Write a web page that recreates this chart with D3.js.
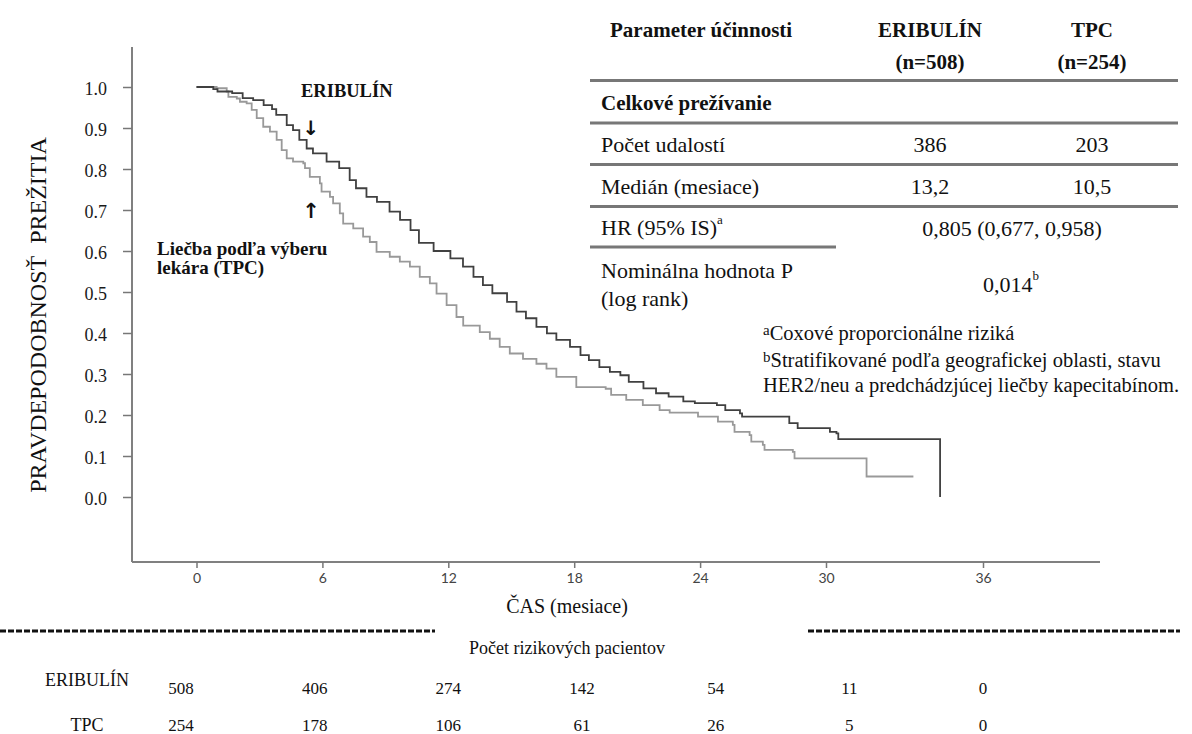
<!DOCTYPE html>
<html>
<head>
<meta charset="utf-8">
<script src="https://d3js.org/d3.v7.min.js"></script>
<style>
  body { margin: 0; background: #fff; }
  svg { display: block; }
</style>
</head>
<body>
<script>
// Kaplan-Meier step points, [months, survival probability]
var eribulinTime = [0, 0.8, 1.0, 1.7, 2.2, 2.7, 3.2, 3.6, 3.8, 4.3, 4.6, 4.9, 5.25, 5.55, 6.2, 6.8, 7.3, 7.6, 8.1, 8.6, 9.2, 9.7, 10.2, 10.6, 11.3, 12.1, 12.7, 13.2, 13.65, 14.1, 14.8, 15.25, 15.7, 16.2, 16.7, 17.15, 17.8, 18.3, 18.7, 19.2, 19.7, 20.2, 20.6, 21.3, 21.9, 22.5, 23.2, 23.75, 24.8, 25.2, 25.9, 26.0, 28.25, 28.65, 30.15, 30.4, 30.47, 34.36];
var eribulinSurv = [1.0, 0.995, 0.989, 0.985, 0.973, 0.968, 0.956, 0.946, 0.932, 0.907, 0.895, 0.871, 0.85, 0.838, 0.818, 0.802, 0.773, 0.753, 0.732, 0.72, 0.696, 0.676, 0.651, 0.62, 0.6, 0.582, 0.562, 0.537, 0.517, 0.497, 0.476, 0.452, 0.436, 0.415, 0.399, 0.383, 0.366, 0.346, 0.334, 0.317, 0.305, 0.297, 0.281, 0.265, 0.253, 0.245, 0.233, 0.229, 0.224, 0.212, 0.204, 0.196, 0.18, 0.168, 0.159, 0.155, 0.141, 0.0];

var tpcTime = [0, 0.96, 1.44, 1.52, 1.92, 2.07, 2.39, 2.63, 2.87, 3.18, 3.5, 3.82, 4.06, 4.3, 4.6, 5.09, 5.17, 5.4, 5.88, 5.96, 6.36, 6.51, 6.83, 6.99, 7.47, 7.94, 8.26, 8.58, 9.21, 9.69, 10.17, 10.64, 11.12, 11.44, 11.92, 12.39, 12.71, 13.5, 13.98, 14.45, 14.93, 15.56, 16.2, 16.68, 17.15, 18.1, 19.5, 19.76, 20.48, 21.27, 22.07, 22.55, 23.9, 24.85, 25.56, 25.64, 26.36, 26.44, 26.99, 27.07, 28.42, 28.5, 31.55, 33.34];
var tpcSurv = [1.0, 0.997, 0.989, 0.976, 0.972, 0.964, 0.96, 0.944, 0.924, 0.903, 0.891, 0.871, 0.846, 0.826, 0.818, 0.814, 0.802, 0.781, 0.765, 0.745, 0.732, 0.716, 0.692, 0.667, 0.655, 0.635, 0.622, 0.598, 0.586, 0.574, 0.562, 0.537, 0.521, 0.496, 0.468, 0.439, 0.418, 0.402, 0.386, 0.366, 0.35, 0.337, 0.325, 0.313, 0.293, 0.268, 0.264, 0.249, 0.237, 0.224, 0.212, 0.206, 0.196, 0.184, 0.176, 0.159, 0.151, 0.135, 0.127, 0.115, 0.11, 0.094, 0.05, 0.05];

// axis ticks
var xTicks = [0, 6, 12, 18, 24, 30, 36];
var yTicks = [0.0, 0.1, 0.2, 0.3, 0.4, 0.5, 0.6, 0.7, 0.8, 0.9, 1.0];

// number at risk
var riskTimes = ["0", "6", "12", "18", "24", "30", "36"];
var riskEribulin = [508, 406, 274, 142, 54, 11, 0];
var riskTpc = [254, 178, 106, 61, 26, 5, 0];

// efficacy table
var tableHead = ["Parameter účinnosti", "ERIBULÍN", "TPC"];
var tableN = ["", "(n=508)", "(n=254)"];
var eventsRow = ["Počet udalostí", "386", "203"];
var medianRow = ["Medián (mesiace)", "13,2", "10,5"];
var hrValue = "0,805 (0,677, 0,958)";
var pValue = "0,014";

var w = 1192;
var h = 734;
var serif = "'Liberation Serif', 'Times New Roman', serif";

var svg = d3.select("body")
    .append("svg")
    .attr("width", w)
    .attr("height", h);

// the printed time axis is not evenly spaced after 30 months
var x = d3.scaleLinear()
    .domain([0, 30, 36])
    .range([196.5, 826, 983]);

var y = d3.scaleLinear()
    .domain([0, 1])
    .range([497, 87]);

// plot frame
svg.append("line")
    .attr("x1", 132).attr("x2", 132)
    .attr("y1", 47).attr("y2", 562)
    .attr("stroke", "#808080").attr("stroke-width", 2);
svg.append("line")
    .attr("x1", 132).attr("x2", 1100)
    .attr("y1", 562).attr("y2", 562)
    .attr("stroke", "#808080").attr("stroke-width", 2);

// y axis
var yAxis = svg.append("g")
    .attr("transform", "translate(132,0)")
    .call(d3.axisLeft(y).tickValues(yTicks).tickSize(9).tickPadding(16).tickFormat(d3.format(".1f")));
yAxis.select(".domain").remove();
yAxis.selectAll("line").attr("stroke", "#777").attr("stroke-width", 1.5);
yAxis.selectAll("text")
    .attr("font-family", serif)
    .attr("font-size", "18px")
    .attr("fill", "#1a1a1a")
    .attr("dy", "0.42em");

// x axis
var xAxis = svg.append("g")
    .attr("transform", "translate(0,562)")
    .call(d3.axisBottom(x).tickValues(xTicks).tickSize(6).tickPadding(5));
xAxis.select(".domain").remove();
xAxis.selectAll("line").attr("stroke", "#777").attr("stroke-width", 1.5);
xAxis.selectAll("text")
    .attr("font-family", "Lato, sans-serif")
    .attr("font-size", "14px")
    .attr("fill", "#444");

// axis titles
svg.append("text")
    .attr("transform", "translate(46,315) rotate(-90)")
    .attr("text-anchor", "middle")
    .attr("font-family", serif)
    .attr("font-size", "24px")
    .attr("fill", "#111")
    .style("white-space", "pre")
    .text("PRAVDEPODOBNOSŤ  PREŽITIA");

svg.append("text")
    .attr("x", 567).attr("y", 613)
    .attr("text-anchor", "middle")
    .attr("font-family", serif)
    .attr("font-size", "20px")
    .attr("fill", "#111")
    .text("ČAS (mesiace)");

// survival curves
var line = d3.line()
    .x(function(d) { return x(d[0]); })
    .y(function(d) { return y(d[1]); })
    .curve(d3.curveStepAfter);

var tpcPoints = tpcTime.map(function(t, i) { return [t, tpcSurv[i]]; });
var eribulinPoints = eribulinTime.map(function(t, i) { return [t, eribulinSurv[i]]; });

svg.append("path")
    .datum(tpcPoints)
    .attr("d", line)
    .attr("fill", "none")
    .attr("stroke", "#999")
    .attr("stroke-width", 1.8);

svg.append("path")
    .datum(eribulinPoints)
    .attr("d", line)
    .attr("fill", "none")
    .attr("stroke", "#404040")
    .attr("stroke-width", 1.8);

// curve labels
svg.append("text")
    .attr("x", 301).attr("y", 97)
    .attr("font-family", serif).attr("font-weight", "bold")
    .attr("font-size", "18.5px").attr("fill", "#111")
    .text("ERIBULÍN");
svg.append("text")
    .attr("x", 311).attr("y", 135)
    .attr("text-anchor", "middle")
    .attr("font-family", "'DejaVu Sans', sans-serif").attr("font-weight", "bold")
    .attr("font-size", "20px").attr("fill", "#111")
    .text("↓");
svg.append("text")
    .attr("x", 311).attr("y", 218)
    .attr("text-anchor", "middle")
    .attr("font-family", "'DejaVu Sans', sans-serif").attr("font-weight", "bold")
    .attr("font-size", "21px").attr("fill", "#111")
    .text("↑");
svg.append("text")
    .attr("x", 157).attr("y", 255)
    .attr("font-family", serif).attr("font-weight", "bold")
    .attr("font-size", "19px").attr("fill", "#111")
    .text("Liečba podľa výberu");
svg.append("text")
    .attr("x", 157).attr("y", 274)
    .attr("font-family", serif).attr("font-weight", "bold")
    .attr("font-size", "19px").attr("fill", "#111")
    .text("lekára (TPC)");

// efficacy table
var colX = [601, 930, 1092];
var tbl = svg.append("g")
    .attr("font-family", serif)
    .attr("font-size", "22px")
    .attr("fill", "#111");

tbl.selectAll("text.head")
    .data(tableHead)
    .enter()
    .append("text")
    .attr("x", function(d, i) { return i == 0 ? 610 : colX[i]; })
    .attr("y", 37)
    .attr("text-anchor", function(d, i) { return i == 0 ? "start" : "middle"; })
    .attr("font-weight", "bold")
    .attr("font-size", "21px")
    .text(function(d) { return d; });

tbl.selectAll("text.n")
    .data(tableN)
    .enter()
    .append("text")
    .attr("x", function(d, i) { return colX[i]; })
    .attr("y", 69)
    .attr("text-anchor", "middle")
    .attr("font-weight", "bold")
    .attr("font-size", "21px")
    .text(function(d) { return d; });

tbl.append("text")
    .attr("x", 601).attr("y", 110)
    .attr("font-weight", "bold")
    .attr("font-size", "21px")
    .text("Celkové prežívanie");

[[eventsRow, 152], [medianRow, 194]].forEach(function(r) {
    tbl.selectAll(null)
        .data(r[0])
        .enter()
        .append("text")
        .attr("x", function(d, i) { return colX[i]; })
        .attr("y", r[1])
        .attr("text-anchor", function(d, i) { return i == 0 ? "start" : "middle"; })
        .text(function(d) { return d; });
});

var hr = tbl.append("text").attr("x", 601).attr("y", 235);
hr.append("tspan").text("HR (95% IS)");
hr.append("tspan").attr("dy", -11).attr("font-size", "13px").text("a");
tbl.append("text")
    .attr("x", 1012).attr("y", 236)
    .attr("text-anchor", "middle")
    .text(hrValue);

tbl.append("text").attr("x", 601).attr("y", 278).text("Nominálna hodnota P");
tbl.append("text").attr("x", 601).attr("y", 306).text("(log rank)");
var pv = tbl.append("text")
    .attr("x", 1011).attr("y", 292)
    .attr("text-anchor", "middle");
pv.append("tspan").text(pValue);
pv.append("tspan").attr("dy", -12).attr("font-size", "13px").text("b");

// table rules
var rules = [[590, 1178, 80.5], [590, 1178, 123], [590, 1178, 164.5], [590, 1178, 206.5], [590, 836, 247]];
svg.selectAll("line.rule")
    .data(rules)
    .enter()
    .append("line")
    .attr("x1", function(d) { return d[0]; })
    .attr("x2", function(d) { return d[1]; })
    .attr("y1", function(d) { return d[2]; })
    .attr("y2", function(d) { return d[2]; })
    .attr("stroke", "#777")
    .attr("stroke-width", 3);

// footnotes
var fn = svg.append("g")
    .attr("font-family", serif)
    .attr("font-size", "20.5px")
    .attr("fill", "#111");
var f1 = fn.append("text").attr("x", 763).attr("y", 340);
f1.append("tspan").attr("font-size", "15px").attr("dy", -5).text("a");
f1.append("tspan").attr("dy", 5).text("Coxové proporcionálne riziká");
var f2 = fn.append("text").attr("x", 763).attr("y", 367);
f2.append("tspan").attr("font-size", "15px").attr("dy", -5).text("b");
f2.append("tspan").attr("dy", 5).text("Stratifikované podľa geografickej oblasti, stavu");
fn.append("text").attr("x", 763).attr("y", 392).text("HER2/neu a predchádzjúcej liečby kapecitabínom.");

// dashed separators
[[0, 435], [808, 1180]].forEach(function(s) {
    svg.append("line")
        .attr("x1", s[0]).attr("x2", s[1])
        .attr("y1", 631).attr("y2", 631)
        .attr("stroke", "#111")
        .attr("stroke-width", 3)
        .attr("stroke-dasharray", "6,2");
});

// number at risk table
var rx = d3.scalePoint()
    .domain(riskTimes)
    .range([181, 983]);

var risk = svg.append("g")
    .attr("font-family", serif)
    .attr("font-size", "17px")
    .attr("fill", "#111");

risk.append("text")
    .attr("x", 567).attr("y", 654)
    .attr("text-anchor", "middle")
    .attr("font-size", "18px")
    .text("Počet rizikových pacientov");

risk.append("text")
    .attr("x", 87).attr("y", 686)
    .attr("text-anchor", "middle")
    .attr("font-size", "18px")
    .text("ERIBULÍN");
risk.append("text")
    .attr("x", 87).attr("y", 731)
    .attr("text-anchor", "middle")
    .attr("font-size", "18px")
    .text("TPC");

risk.selectAll("text.riskE")
    .data(riskEribulin)
    .enter()
    .append("text")
    .attr("x", function(d, i) { return rx(riskTimes[i]); })
    .attr("y", 694)
    .attr("text-anchor", "middle")
    .text(function(d) { return d; });

risk.selectAll("text.riskT")
    .data(riskTpc)
    .enter()
    .append("text")
    .attr("x", function(d, i) { return rx(riskTimes[i]); })
    .attr("y", 731)
    .attr("text-anchor", "middle")
    .text(function(d) { return d; });
</script>
</body>
</html>
